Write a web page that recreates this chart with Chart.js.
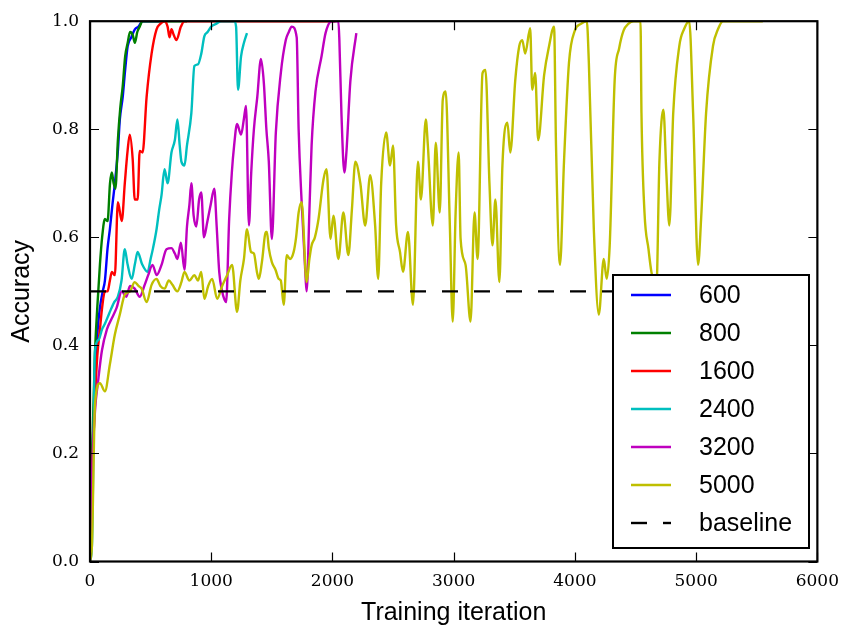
<!DOCTYPE html>
<html>
<head>
<meta charset="utf-8">
<script src="https://cdn.jsdelivr.net/npm/chart.js@4.4.1/dist/chart.umd.min.js"></script>
<style>
  html, body { margin: 0; padding: 0; background: #fff; }
  #wrap { width: 849px; height: 632px; }
</style>
</head>
<body>
<div id="wrap"><canvas id="acc" width="849" height="632"></canvas></div>
<script>
// <-- Data -->
const xTicks = [0, 1000, 2000, 3000, 4000, 5000, 6000];
const yTicks = [0.0, 0.2, 0.4, 0.6, 0.8, 1.0];
const labels = ['600', '800', '1600', '2400', '3200', '5000', 'baseline'];

const it600 = [0, 20, 40, 60, 82, 105, 123, 145, 164, 185, 205, 230, 246, 270, 290, 311, 340, 370, 400, 434, 480, 540, 600];
const acc600 = [0.02, 0.20, 0.33, 0.42, 0.47, 0.50, 0.52, 0.58, 0.615, 0.66, 0.70, 0.76, 0.818, 0.86, 0.91, 0.954, 0.97, 0.985, 0.99, 1.0, 1.0, 1.0, 1.0];

const it800 = [0, 20, 40, 60, 82, 100, 123, 145, 165, 180, 195, 210, 230, 250, 270, 290, 311, 330, 352, 370, 390, 410, 434, 475, 520, 600, 700, 800];
const acc800 = [0.02, 0.22, 0.38, 0.47, 0.55, 0.60, 0.634, 0.63, 0.70, 0.72, 0.70, 0.69, 0.78, 0.84, 0.88, 0.935, 0.96, 0.98, 0.975, 0.96, 0.98, 0.99, 1.0, 1.0, 1.0, 1.0, 1.0, 1.0];

const it1600 = [0, 20, 41, 60, 82, 100, 123, 145, 164, 180, 205, 230, 262, 287, 310, 328, 352, 369, 393, 410, 434, 467, 508, 549, 580, 615, 640, 656, 672, 690, 713, 750, 779, 850, 1000, 1200, 1400, 1600, 1800, 2025];
const acc1600 = [0.02, 0.18, 0.30, 0.38, 0.43, 0.47, 0.50, 0.50, 0.52, 0.536, 0.53, 0.665, 0.63, 0.70, 0.76, 0.79, 0.745, 0.67, 0.67, 0.76, 0.757, 0.86, 0.94, 0.985, 0.995, 1.0, 0.99, 0.97, 0.985, 0.975, 0.965, 0.99, 1.0, 1.0, 1.0, 1.0, 1.0, 1.0, 1.0, 1.0];

const it2400 = [0, 16, 41, 70, 100, 123, 160, 200, 230, 260, 287, 310, 344, 370, 393, 430, 475, 500, 520, 549, 570, 590, 615, 640, 672, 700, 721, 740, 754, 779, 800, 836, 861, 890, 918, 943, 970, 1000, 1040, 1082, 1120, 1164, 1190, 1205, 1221, 1246, 1270, 1295];
const acc2400 = [0.0, 0.03, 0.39, 0.41, 0.43, 0.44, 0.46, 0.48, 0.49, 0.52, 0.578, 0.55, 0.523, 0.55, 0.573, 0.55, 0.536, 0.56, 0.58, 0.615, 0.65, 0.678, 0.726, 0.70, 0.757, 0.78, 0.818, 0.77, 0.74, 0.733, 0.77, 0.83, 0.917, 0.92, 0.94, 0.972, 0.98, 0.99, 0.995, 1.0, 1.0, 1.0, 1.0, 0.99, 0.873, 0.935, 0.96, 0.978];

const it3200 = [0, 20, 41, 70, 98, 140, 180, 220, 262, 300, 330, 369, 410, 451, 480, 516, 550, 590, 631, 672, 700, 721, 750, 779, 800, 820, 836, 855, 877, 900, 918, 940, 967, 995, 1025, 1045, 1066, 1090, 1107, 1123, 1148, 1170, 1189, 1213, 1246, 1270, 1287, 1311, 1330, 1352, 1380, 1410, 1434, 1455, 1475, 1500, 1533, 1574, 1615, 1640, 1664, 1705, 1721, 1746, 1779, 1787, 1810, 1828, 1860, 1910, 1943, 1992, 2049, 2057, 2074, 2098, 2115, 2148, 2197];
const acc3200 = [0.0, 0.18, 0.278, 0.34, 0.39, 0.43, 0.45, 0.47, 0.50, 0.49, 0.51, 0.505, 0.49, 0.512, 0.53, 0.549, 0.53, 0.549, 0.578, 0.58, 0.57, 0.56, 0.59, 0.54, 0.62, 0.66, 0.70, 0.64, 0.62, 0.67, 0.683, 0.60, 0.628, 0.66, 0.69, 0.62, 0.536, 0.50, 0.486, 0.48, 0.634, 0.72, 0.77, 0.81, 0.79, 0.82, 0.843, 0.622, 0.72, 0.80, 0.86, 0.93, 0.886, 0.80, 0.74, 0.597, 0.794, 0.904, 0.965, 0.98, 0.99, 0.97, 0.80, 0.665, 0.523, 0.50, 0.65, 0.77, 0.87, 0.935, 0.978, 1.0, 1.0, 0.965, 0.83, 0.72, 0.757, 0.89, 0.978];

const it5000 = [0, 16, 41, 82, 123, 164, 205, 246, 287, 330, 369, 400, 426, 467, 508, 549, 580, 615, 650, 680, 720, 754, 779, 820, 861, 890, 918, 943, 975, 1008, 1049, 1090, 1131, 1172, 1213, 1240, 1270, 1295, 1328, 1352, 1377, 1393, 1418, 1451, 1459, 1475, 1500, 1530, 1557, 1574, 1598, 1623, 1650, 1680, 1700, 1721, 1746, 1787, 1810, 1828, 1855, 1885, 1926, 1951, 1984, 2008, 2049, 2090, 2131, 2160, 2189, 2230, 2270, 2311, 2352, 2377, 2402, 2443, 2475, 2500, 2525, 2557, 2582, 2623, 2664, 2705, 2730, 2770, 2787, 2828, 2852, 2885, 2910, 2934, 2967, 2992, 3016, 3041, 3057, 3098, 3139, 3172, 3197, 3238, 3262, 3295, 3320, 3344, 3377, 3402, 3443, 3467, 3508, 3541, 3566, 3590, 3631, 3648, 3672, 3697, 3746, 3787, 3828, 3844, 3877, 3910, 3951, 4000, 4050, 4098, 4115, 4156, 4197, 4238, 4262, 4287, 4328, 4365, 4402, 4440, 4484, 4541, 4549, 4574, 4607, 4631, 4672, 4697, 4730, 4754, 4779, 4811, 4861, 4900, 4943, 4975, 5016, 5041, 5082, 5139, 5180, 5221, 5300, 5400, 5550];
const acc5000 = [0.0, 0.03, 0.29, 0.33, 0.315, 0.365, 0.42, 0.457, 0.494, 0.50, 0.517, 0.51, 0.505, 0.48, 0.512, 0.523, 0.51, 0.505, 0.52, 0.512, 0.50, 0.517, 0.536, 0.52, 0.53, 0.52, 0.536, 0.486, 0.51, 0.523, 0.486, 0.51, 0.53, 0.549, 0.462, 0.52, 0.56, 0.615, 0.573, 0.57, 0.536, 0.523, 0.554, 0.61, 0.61, 0.58, 0.554, 0.54, 0.523, 0.52, 0.475, 0.567, 0.56, 0.573, 0.60, 0.646, 0.665, 0.517, 0.56, 0.585, 0.60, 0.634, 0.707, 0.726, 0.597, 0.64, 0.56, 0.646, 0.567, 0.65, 0.74, 0.70, 0.622, 0.715, 0.622, 0.523, 0.70, 0.794, 0.733, 0.77, 0.622, 0.573, 0.536, 0.61, 0.475, 0.74, 0.67, 0.818, 0.77, 0.622, 0.775, 0.646, 0.855, 0.87, 0.634, 0.444, 0.646, 0.757, 0.597, 0.549, 0.444, 0.646, 0.56, 0.904, 0.91, 0.70, 0.585, 0.67, 0.517, 0.733, 0.812, 0.757, 0.891, 0.954, 0.965, 0.94, 0.987, 0.873, 0.904, 0.78, 0.90, 0.954, 0.99, 0.77, 0.549, 0.74, 0.923, 0.983, 0.995, 1.0, 0.923, 0.615, 0.457, 0.56, 0.523, 0.585, 0.891, 0.95, 0.983, 0.995, 1.0, 1.0, 0.83, 0.646, 0.578, 0.536, 0.505, 0.74, 0.836, 0.72, 0.622, 0.83, 0.954, 0.985, 1.0, 0.83, 0.549, 0.634, 0.83, 0.954, 0.985, 1.0, 1.0, 1.0, 1.0];

const baseIter = [0, 6000];
const baseAcc = [0.5, 0.5];

const colors = ['#0000ff', '#008000', '#ff0000', '#00bfbf', '#bf00bf', '#bfbf00', '#000000'];

function pts(xs, ys) { return xs.map((x, i) => ({ x, y: ys[i] })); }

const series = [
    pts(it600, acc600), pts(it800, acc800), pts(it1600, acc1600),
    pts(it2400, acc2400), pts(it3200, acc3200), pts(it5000, acc5000),
    pts(baseIter, baseAcc)
];

// <-- Frame, inward ticks and boxed legend (matplotlib look) -->
const framePlugin = {
    id: 'frame',
    afterDatasetsDraw(chart) {
        const { ctx } = chart;
        const box = { left: 613, top: 275, right: 809, bottom: 548 };
        ctx.save();
        ctx.fillStyle = '#fff';
        ctx.fillRect(box.left, box.top, box.right - box.left, box.bottom - box.top);
        ctx.lineWidth = 2;
        ctx.strokeStyle = '#000';
        ctx.strokeRect(box.left, box.top, box.right - box.left, box.bottom - box.top);
        ctx.font = '25px "Liberation Sans", Arial, sans-serif';
        ctx.textBaseline = 'middle';
        ctx.fillStyle = '#000';
        chart.data.datasets.forEach((ds, i) => {
            const y = 295 + i * 38;
            ctx.beginPath();
            ctx.setLineDash(ds.borderDash || []);
            ctx.strokeStyle = ds.borderColor;
            ctx.lineWidth = 2.4;
            ctx.moveTo(631, y);
            ctx.lineTo(671, y);
            ctx.stroke();
            ctx.setLineDash([]);
            ctx.fillText(ds.label, 699, y + 1);
        });
        ctx.restore();
    },
    afterDraw(chart) {
        const { ctx, chartArea: a, scales } = chart;
        const tl = 9;
        ctx.save();
        ctx.strokeStyle = '#000';
        ctx.lineWidth = 1.2;
        ctx.beginPath();
        xTicks.forEach(v => {
            const x = Math.round(scales.x.getPixelForValue(v)) + 0.5;
            ctx.moveTo(x, a.bottom); ctx.lineTo(x, a.bottom - tl);
            ctx.moveTo(x, a.top); ctx.lineTo(x, a.top + tl);
        });
        yTicks.forEach(v => {
            const y = Math.round(scales.y.getPixelForValue(v)) + 0.5;
            ctx.moveTo(a.left, y); ctx.lineTo(a.left + tl, y);
            ctx.moveTo(a.right, y); ctx.lineTo(a.right - tl, y);
        });
        ctx.stroke();
        ctx.lineWidth = 2.2;
        ctx.strokeRect(a.left, a.top, a.right - a.left, a.bottom - a.top);
        ctx.restore();
    }
};

// <-- Chart -->
window.addEventListener('DOMContentLoaded', function () {
    const n = series.length;
    const datasets = series.map((data, i) => ({
        label: labels[i],
        data,
        borderColor: colors[i],
        backgroundColor: colors[i],
        borderWidth: 2.4,
        borderDash: i === n - 1 ? [16, 16] : [],
        pointRadius: 0,
        cubicInterpolationMode: 'monotone',
        fill: false,
        order: n - 1 - i
    }));

    const tickFont = { family: '"DejaVu Serif", serif', size: 17 };
    const titleFont = { family: '"Liberation Sans", Arial, sans-serif', size: 25 };

    new Chart(document.getElementById('acc'), {
        type: 'line',
        data: { datasets },
        options: {
            responsive: false,
            animation: false,
            devicePixelRatio: 1,
            layout: { padding: { left: 0, top: 17.5, right: 27, bottom: 0 } },
            plugins: { legend: { display: false }, tooltip: { enabled: false } },
            scales: {
                x: {
                    type: 'linear', min: 0, max: 6000,
                    afterFit: s => { s.height = 70.5; },
                    afterBuildTicks: s => { s.ticks = xTicks.map(v => ({ value: v })); },
                    grid: { display: false, drawTicks: false },
                    border: { display: false },
                    ticks: { color: '#000', font: tickFont, padding: 10, maxRotation: 0, callback: v => String(v) },
                    title: { display: true, text: 'Training iteration', color: '#000', font: titleFont, padding: { top: 0, bottom: 4 } }
                },
                y: {
                    type: 'linear', min: 0, max: 1,
                    afterFit: s => { s.width = 90; },
                    afterBuildTicks: s => { s.ticks = yTicks.map(v => ({ value: v })); },
                    grid: { display: false, drawTicks: false },
                    border: { display: false },
                    ticks: { color: '#000', font: tickFont, padding: 11, callback: v => Number(v).toFixed(1) },
                    title: { display: true, text: 'Accuracy', color: '#000', font: titleFont, padding: { top: 7, bottom: 0 } }
                }
            }
        },
        plugins: [framePlugin]
    });
});
</script>
</body>
</html>
